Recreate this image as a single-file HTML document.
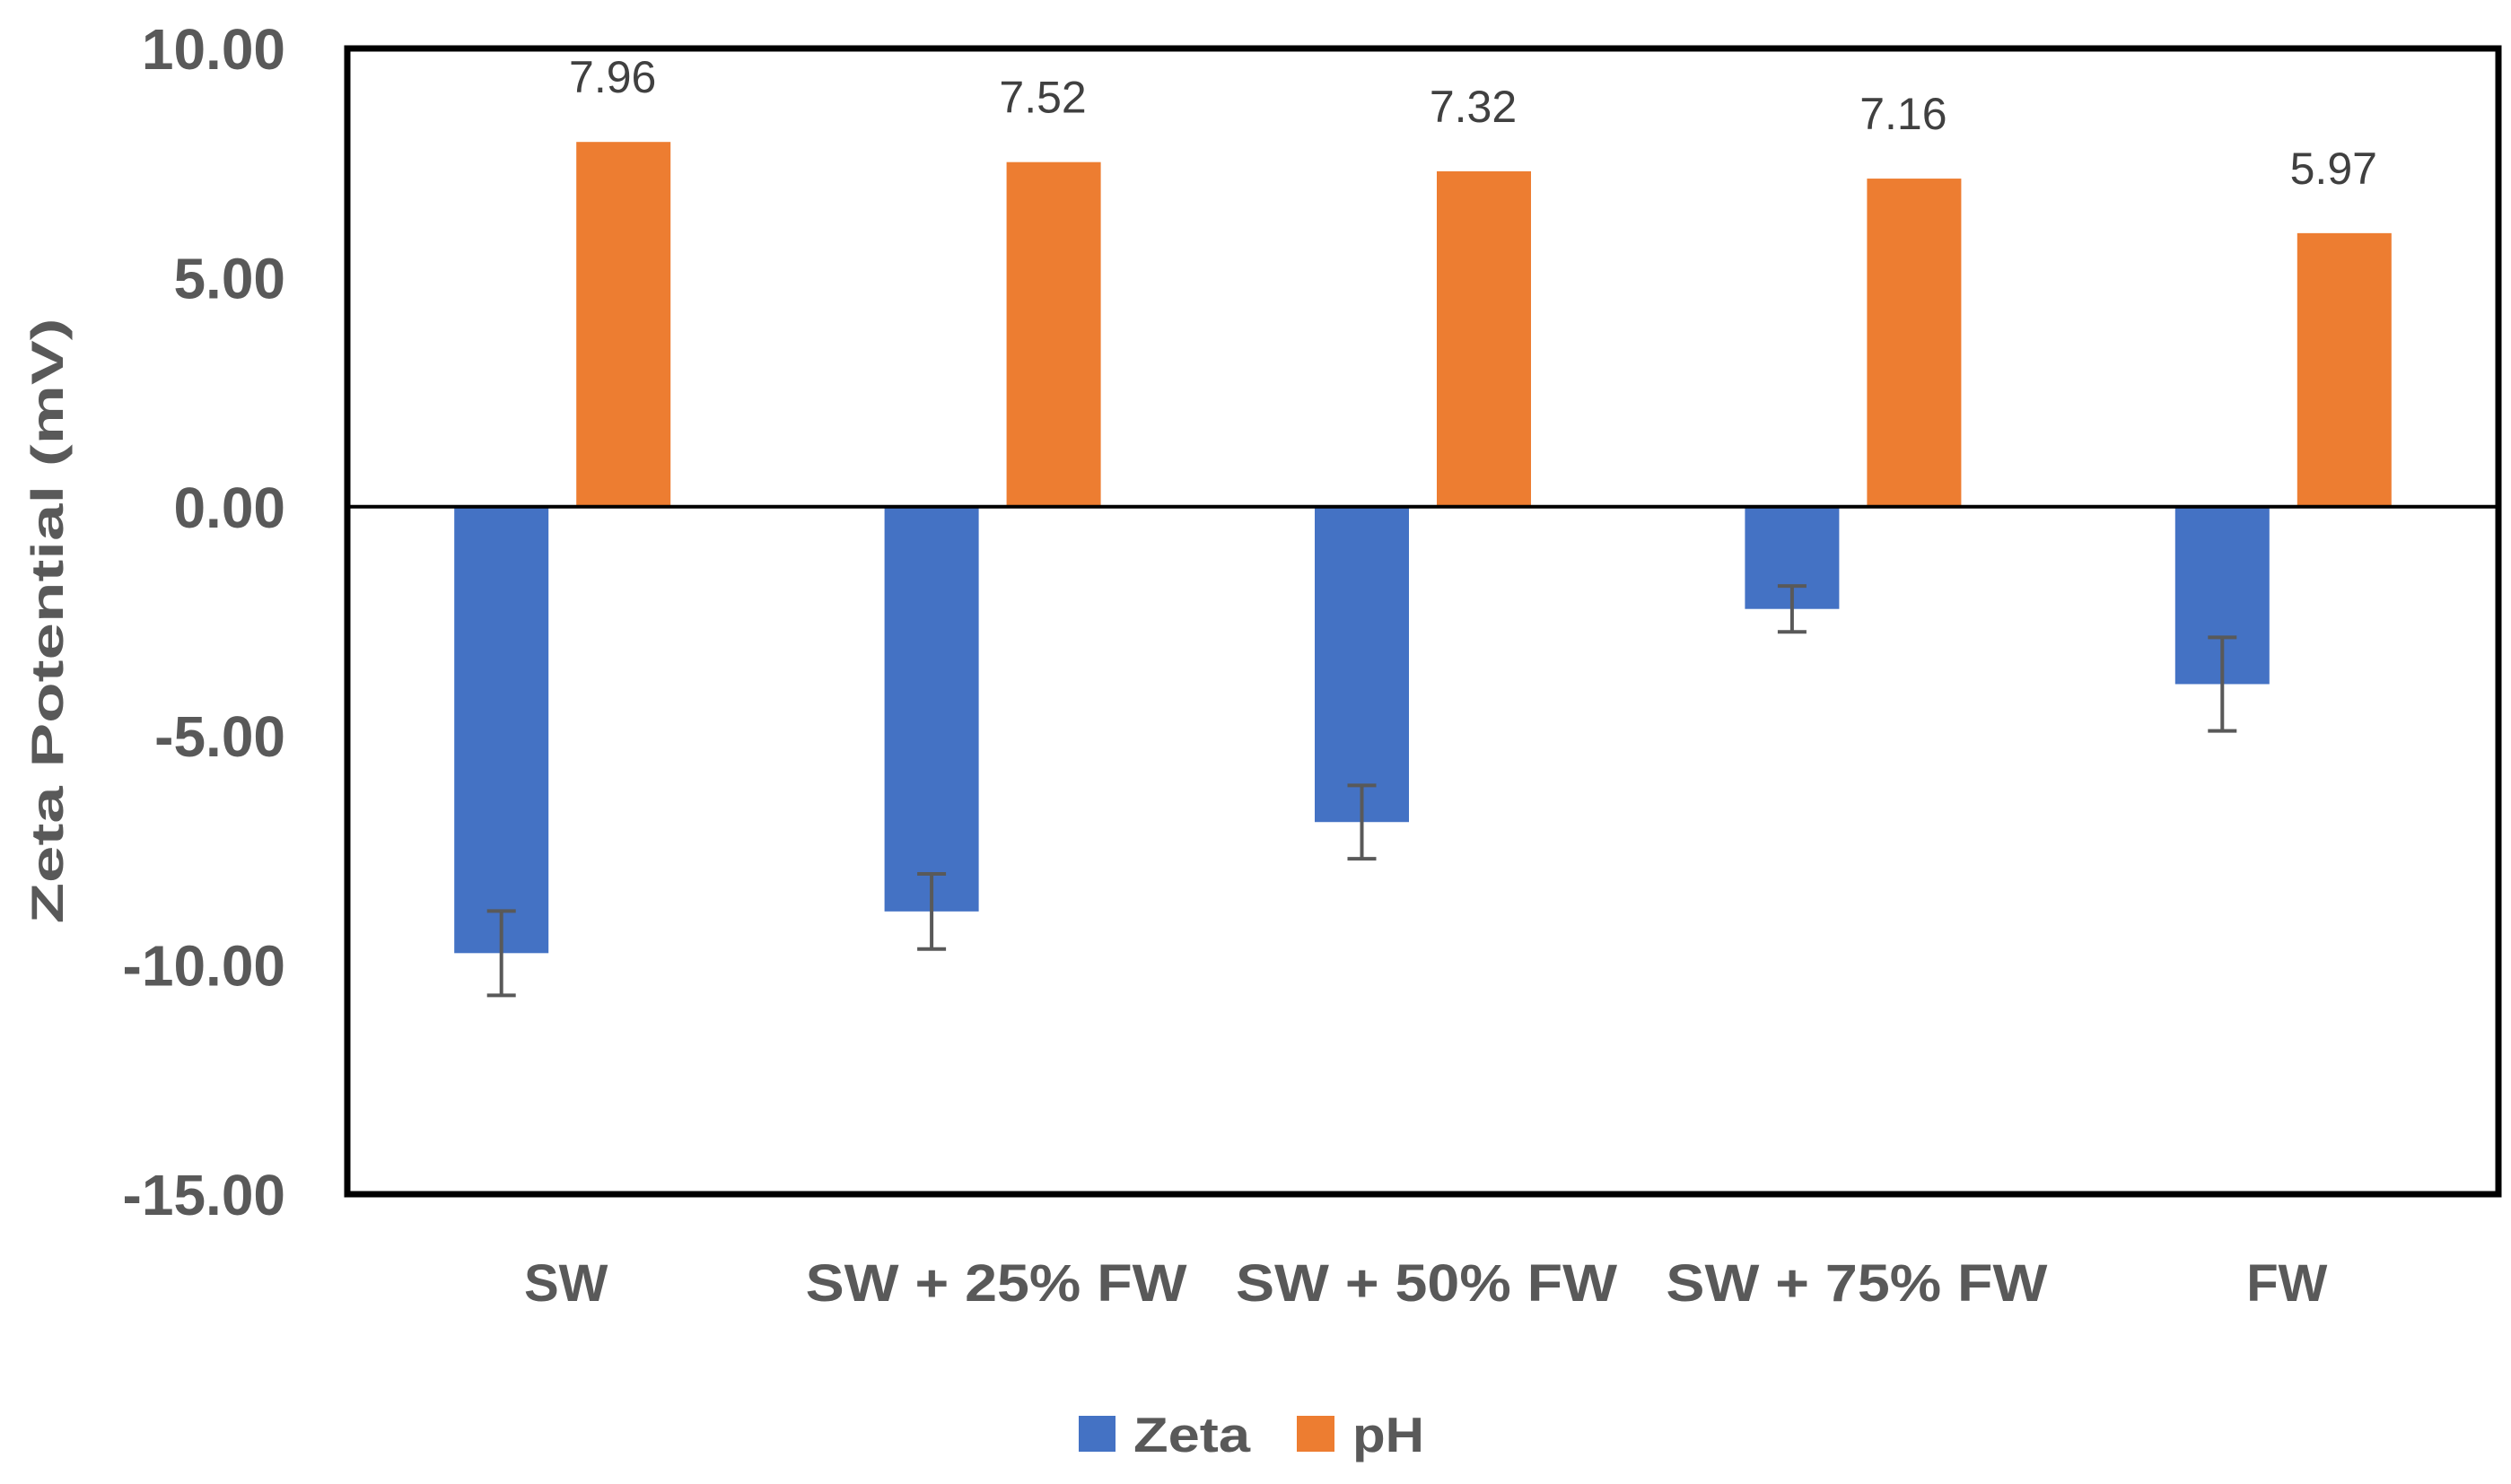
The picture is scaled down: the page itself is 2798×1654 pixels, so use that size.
<!DOCTYPE html>
<html><head><meta charset="utf-8"><style>
html,body{margin:0;padding:0;background:#fff;}
svg{display:block;font-family:"Liberation Sans",Arial,sans-serif;}
</style></head>
<body>
<svg id="chart" width="2798" height="1654" viewBox="0 0 2798 1654">
  <g id="bars"></g>
  <g id="errs"></g>
  <line id="zero" stroke="#000" stroke-width="4"/>
  <rect id="frame" fill="none" stroke="#000" stroke-width="7"/>
  <g id="yticks"></g>
  <g id="xlabels"></g>
  <g id="vlabels"></g>
  <text x="0" y="0" transform="translate(70,692) rotate(-90)" text-anchor="middle" font-size="50" font-weight="bold" fill="#595959" textLength="675" lengthAdjust="spacingAndGlyphs">Zeta Potential (mV)</text>
  <g>
    <rect x="1202" y="1578" width="41" height="40" fill="#4472C4"/>
    <text x="1263" y="1618" font-size="55" font-weight="bold" fill="#595959" textLength="130" lengthAdjust="spacingAndGlyphs">Zeta</text>
    <rect x="1445" y="1578" width="42" height="40" fill="#ED7D31"/>
    <text x="1507" y="1618" font-size="55" font-weight="bold" fill="#595959" textLength="80" lengthAdjust="spacingAndGlyphs">pH</text>
  </g>
</svg>
<script>
const categories = ["SW", "SW + 25% FW", "SW + 50% FW", "SW + 75% FW", "FW"];
const zetaValues = [-9.74, -8.83, -6.88, -2.23, -3.87];
const zetaErrors = [0.92, 0.82, 0.80, 0.50, 1.02];
const phValues = [7.96, 7.52, 7.32, 7.16, 5.97];
const phLabels = ["7.96", "7.52", "7.32", "7.16", "5.97"];
const yTickValues = [10, 5, 0, -5, -10, -15];
const yTickLabels = ["10.00", "5.00", "0.00", "-5.00", "-10.00", "-15.00"];

const NS = "http://www.w3.org/2000/svg";
const L = 387, R = 2784, T = 54, B = 1331;
const yMin = -15, yMax = 10;
function y(v){ return B - (v - yMin) / (yMax - yMin) * (B - T); }
const band = (R - L) / categories.length;
function xc(i){ return L + band * (i + 0.5); }
const barW = 105, off = 68;
function mk(tag, attrs, parent){ const e = document.createElementNS(NS, tag); for (const k in attrs) e.setAttribute(k, attrs[k]); parent.appendChild(e); return e; }

const frame = document.getElementById('frame');
frame.setAttribute('x', L); frame.setAttribute('y', T); frame.setAttribute('width', R - L); frame.setAttribute('height', B - T);
const zero = document.getElementById('zero');
zero.setAttribute('x1', L); zero.setAttribute('x2', R); zero.setAttribute('y1', y(0)); zero.setAttribute('y2', y(0));

const gb = document.getElementById('bars'), ge = document.getElementById('errs'), gv = document.getElementById('vlabels');
const gx = document.getElementById('xlabels'), gy = document.getElementById('yticks');

categories.forEach((c, i) => {
  const zx = xc(i) - off, px = xc(i) + off;
  const z = zetaValues[i];
  const zb = mk('rect', {x: zx - barW/2, y: Math.min(y(0), y(z)), width: barW, height: Math.abs(y(z) - y(0)), fill: '#4472C4'}, gb);
  
  
  const p = phValues[i];
  const pb = mk('rect', {x: px - barW/2, y: y(p), width: barW, height: y(0) - y(p), fill: '#ED7D31'}, gb);
  
  
  const e = zetaErrors[i];
  const eg = mk('g', {stroke: '#595959', 'stroke-width': 4}, ge);
  
  
  mk('line', {x1: zx, x2: zx, y1: y(z + e), y2: y(z - e)}, eg);
  mk('line', {x1: zx - 16, x2: zx + 16, y1: y(z + e), y2: y(z + e)}, eg);
  mk('line', {x1: zx - 16, x2: zx + 16, y1: y(z - e), y2: y(z - e)}, eg);
  const vl = mk('text', {x: px - 12, y: y(p) - 55, 'text-anchor': 'middle', 'font-size': 50, fill: '#404040'}, gv);
  vl.textContent = phLabels[i];
  
  
  const xl = mk('text', {x: xc(i) + 4, y: 1450, 'text-anchor': 'middle', 'font-size': 58, 'font-weight': 'bold', fill: '#595959'}, gx);
  xl.textContent = c;
  if (c.length > 3) { xl.setAttribute('textLength', 425); xl.setAttribute('lengthAdjust', 'spacingAndGlyphs'); }
  
  
});

yTickValues.forEach((v, i) => {
  const t = mk('text', {x: 318, y: y(v) + 23, 'text-anchor': 'end', 'font-size': 64, 'font-weight': 'bold', fill: '#595959'}, gy);
  t.textContent = yTickLabels[i];
  
  
});
</script>
</body></html>
